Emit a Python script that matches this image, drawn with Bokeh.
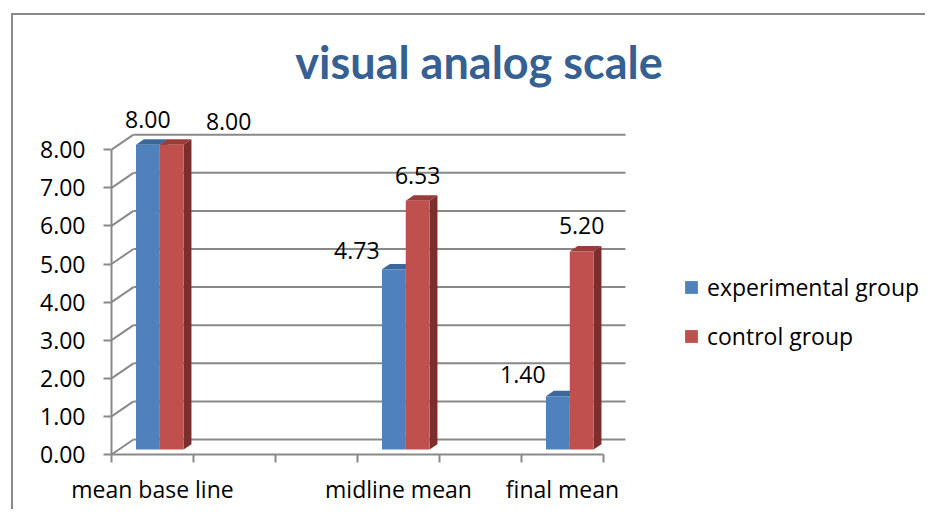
from bokeh.plotting import figure
from bokeh.models import (Range1d, LinearAxis, FixedTicker, NumeralTickFormatter,
                          Legend, LegendItem, ColumnDataSource)
from bokeh.core.properties import value
from bokeh.embed import file_html
from bokeh.resources import INLINE

# ---------------- data ----------------
categories = ["mean base line", "", "", "midline mean", "", "final mean"]
experimental = [8.00, None, None, 4.73, None, 1.40]
control = [8.00, None, None, 6.53, None, 5.20]
series_names = ["experimental group", "control group"]
y_ticks = [0, 1, 2, 3, 4, 5, 6, 7, 8]

# ---------------- style ----------------
FONT = "Open Sans"
TFONT = "Lato"
FS = "23px"
BLUE = ("#4F81BD", "#3C679A", "#2E5480")   # front, top, side
RED = ("#C0504D", "#9A3B39", "#7B2E2C")
GRID = "#898989"
SLOT_PX = 82.0          # px per category slot
UNIT_PX = 38.1          # px per value unit
DX = 22 / SLOT_PX       # full depth, x (slot units)
DY = 15 / UNIT_PX       # full depth, y (value units)
F0, F1 = 0.33, 0.69     # bar depth start/end (fraction of full depth)
BAR_W = 0.29

W, H = 914, 496
ML, MB = 98, 57
frame_w, frame_h = W - ML, H - MB

p = figure(width=W, height=H, output_backend="svg", toolbar_location=None,
           title=None, x_axis_type=None, y_axis_type=None,
           x_range=Range1d(0, frame_w / SLOT_PX), y_range=Range1d(0, frame_h / UNIT_PX),
           min_border_left=ML, min_border_bottom=MB, min_border_top=0, min_border_right=0)
p.styles = {"border-left": "2px solid #8a8a8a", "border-top": "2px solid #8a8a8a",
            "margin-left": "11px", "margin-top": "13px"}
p.outline_line_color = None
p.background_fill_color = "white"
p.border_fill_color = "white"

# page-pixel helpers (relative to the frame)
def fx(px):
    return (px - 111) / SLOT_PX

def fy(py):
    return (452 - py) / UNIT_PX

n = len(categories)
# back wall gridlines and left wall diagonals
p.segment(x0=[DX] * len(y_ticks), y0=[v + DY for v in y_ticks],
          x1=[n + DX] * len(y_ticks), y1=[v + DY for v in y_ticks],
          line_color=GRID, line_width=2)
p.segment(x0=[0] * len(y_ticks), y0=y_ticks, x1=[DX] * len(y_ticks),
          y1=[v + DY for v in y_ticks], line_color=GRID, line_width=2)

legend_items = []
for s, (vals, cols) in enumerate([(experimental, BLUE), (control, RED)]):
    L, R, B, T, tops, sides = [], [], [], [], ([], []), ([], [])
    for i, v in enumerate(vals):
        if v is None:
            continue
        cx = i + 0.5 + (s - 0.5) * BAR_W + F0 * DX
        l, r = cx - BAR_W / 2, cx + BAR_W / 2
        b, t = F0 * DY, v + F0 * DY
        L.append(l); R.append(r); B.append(b); T.append(t)
        d = F1 - F0
        tops[0].append([l, r, r + d * DX, l + d * DX])
        tops[1].append([t, t, t + d * DY, t + d * DY])
        sides[0].append([r, r + d * DX, r + d * DX, r])
        sides[1].append([b, b + d * DY, t + d * DY, t])
    p.patches(xs=sides[0], ys=sides[1], fill_color=cols[2], line_color=None)
    p.patches(xs=tops[0], ys=tops[1], fill_color=cols[1], line_color=None)
    q = p.quad(left=L, right=R, bottom=B, top=T, fill_color=cols[0], line_color=None)
    legend_items.append(LegendItem(label=series_names[s], renderers=[q]))

# data labels
lab_dx = [[0, -37, -35], [57, 0, 0]]
lab_dy = [[-25, -19, -22], [-23, -25, -26]]
for s, vals in enumerate([experimental, control]):
    xs, ys, txt = [], [], []
    for i, v in enumerate(vals):
        if v is None:
            continue
        xs.append(i + 0.5 + (s - 0.5) * BAR_W + F0 * DX)
        ys.append(v + F0 * DY)
        txt.append(f"{v:.2f}")
    src = ColumnDataSource(dict(x=xs, y=ys, t=txt, dx=lab_dx[s], dy=lab_dy[s]))
    p.text(x="x", y="y", text="t", x_offset="dx", y_offset="dy", source=src,
           text_font=value(FONT), text_font_size=FS, text_color="black",
           text_align="center", text_baseline="middle")

# title
p.text(x=[fx(478.5)], y=[fy(59)], text=["visual analog scale"],
       text_font=value(TFONT), text_font_style="bold", text_font_size="45px",
       text_color="#376092", text_align="center", text_baseline="alphabetic")

# axes
yax = LinearAxis(ticker=FixedTicker(ticks=y_ticks), formatter=NumeralTickFormatter(format="0.00"),
                 bounds=(0, max(y_ticks)))
yax.axis_line_color = GRID
yax.axis_line_width = 2
yax.major_tick_line_color = GRID
yax.major_tick_line_width = 2
yax.major_tick_out = 8
yax.major_tick_in = 0
yax.minor_tick_line_color = None
yax.major_label_standoff = 18
yax.major_label_text_font = FONT
yax.major_label_text_font_size = FS
yax.major_label_text_color = "black"
p.add_layout(yax, "left")

label_ticks = [i + 0.5 for i, c in enumerate(categories) if c]
xax = LinearAxis(ticker=FixedTicker(ticks=label_ticks, minor_ticks=list(range(n + 1))),
                 bounds=(0, n))
xax.major_label_overrides = {i + 0.5: c for i, c in enumerate(categories) if c}
xax.axis_line_color = GRID
xax.axis_line_width = 2
xax.major_tick_line_color = None
xax.major_tick_out = 0
xax.major_tick_in = 0
xax.minor_tick_line_color = GRID
xax.minor_tick_line_width = 2
xax.minor_tick_out = 8
xax.minor_tick_in = 0
xax.major_label_standoff = 10
xax.major_label_text_font = FONT
xax.major_label_text_font_size = FS
xax.major_label_text_color = "black"
p.add_layout(xax, "below")

legend = Legend(items=legend_items, location=(572, 102),
                glyph_width=16, glyph_height=16, label_standoff=8, spacing=17,
                padding=0, margin=0, border_line_color=None, background_fill_alpha=0,
                label_text_font=FONT, label_text_font_size=FS, label_text_color="black")
p.add_layout(legend)

open("out.html", "w").write(file_html(p, INLINE))
